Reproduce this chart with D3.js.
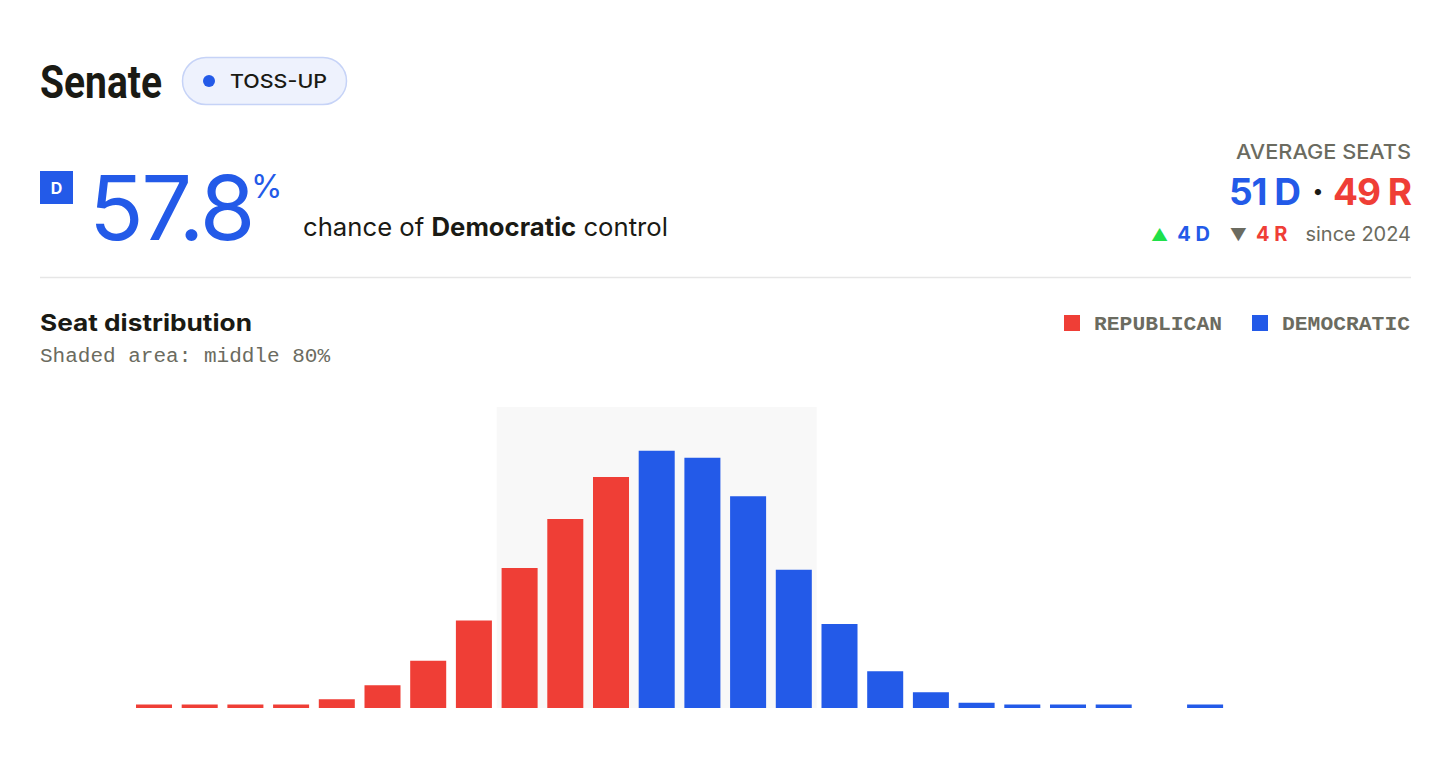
<!DOCTYPE html>
<html>
<head>
<meta charset="utf-8">
<script src="https://cdn.jsdelivr.net/npm/d3@7"></script>
<style>
  html, body { margin: 0; padding: 0; background: #ffffff; }
  svg { display: block; }
</style>
</head>
<body>
<svg id="chart" width="1448" height="772"></svg>
<script>
// ---- data ----
const seats = [39, 40, 41, 42, 43, 44, 45, 46, 47, 48, 49, 50, 51, 52, 53, 54, 55, 56, 57, 58, 59, 60, 61, 62];
const probability = [0.2, 0.2, 0.2, 0.2, 0.5, 1.3, 2.7, 5.0, 8.0, 10.8, 13.2, 14.7, 14.3, 12.1, 7.9, 4.8, 2.1, 0.9, 0.3, 0.2, 0.2, 0.2, 0, 0.2];
const controlThreshold = 50;
const middle80 = [47, 53];
const legendLabels = ["REPUBLICAN", "DEMOCRATIC"];
const demChance = "57.8";
const avgSeats = { D: 51, R: 49 };
const changeSince = { D: 4, R: 4, year: 2024 };

const RED = "#ef3e36", BLUE = "#235ae8", INK = "#1a1a14", GREY = "#6b6b60";
const SANS = "Inter, 'Noto Sans', Roboto, sans-serif";
const MONO = "'Liberation Mono', 'DejaVu Sans Mono', monospace";

const svg = d3.select("#chart");

// ---- header ----
svg.append("text").attr("x", 40).attr("y", 98)
  .attr("font-family", "Roboto, " + SANS).attr("font-weight", 700).attr("font-size", 46)
  .attr("textLength", 122).attr("lengthAdjust", "spacingAndGlyphs")
  .attr("fill", INK).text("Senate");

svg.append("rect").attr("x", 182.5).attr("y", 57.5).attr("width", 164).attr("height", 47)
  .attr("rx", 23.5).attr("fill", "#eef2fd").attr("stroke", "#c6d3f7").attr("stroke-width", 1.5);
svg.append("circle").attr("cx", 209).attr("cy", 81).attr("r", 6).attr("fill", BLUE);
svg.append("text").attr("x", 230).attr("y", 88)
  .attr("font-family", SANS).attr("font-weight", 500).attr("font-size", 19)
  .attr("textLength", 97).attr("lengthAdjust", "spacingAndGlyphs")
  .attr("fill", INK).text("TOSS-UP");

// D badge + big number
svg.append("rect").attr("x", 40).attr("y", 171).attr("width", 33).attr("height", 33).attr("fill", BLUE);
svg.append("text").attr("x", 56.5).attr("y", 194).attr("text-anchor", "middle")
  .attr("font-family", SANS).attr("font-weight", 700).attr("font-size", 16)
  .attr("fill", "#fff").text("D");

const big = svg.append("text").attr("x", 89).attr("y", 240)
  .attr("font-family", SANS).attr("font-weight", 400).attr("fill", BLUE);
const num = big.append("tspan").attr("font-size", 90).text(demChance);
const natural = num.node().getComputedTextLength();
num.attr("letter-spacing", (164 - natural) / demChance.length);
big.append("tspan").attr("font-size", 32).attr("dx", -2).attr("dy", -42).text("%");

const ctrl = svg.append("text").attr("x", 303).attr("y", 236)
  .attr("font-family", SANS).attr("font-size", 25).attr("fill", INK)
  .attr("textLength", 365).attr("lengthAdjust", "spacingAndGlyphs");
ctrl.append("tspan").attr("font-weight", 400).text("chance of ");
ctrl.append("tspan").attr("font-weight", 700).text("Democratic");
ctrl.append("tspan").attr("font-weight", 400).text(" control");

// right block
svg.append("text").attr("x", 1411).attr("y", 159).attr("text-anchor", "end")
  .attr("font-family", SANS).attr("font-weight", 500).attr("font-size", 20)
  .attr("textLength", 175).attr("lengthAdjust", "spacingAndGlyphs")
  .attr("fill", GREY).text("AVERAGE SEATS");
const avg = svg.append("text").attr("x", 1411).attr("y", 205).attr("text-anchor", "end")
  .attr("font-family", SANS).attr("font-weight", 700).attr("font-size", 37).attr("letter-spacing", -1);
avg.append("tspan").attr("fill", BLUE).text(avgSeats.D + " D");
avg.append("tspan").attr("fill", INK).attr("dx", 4).text(" · ");
avg.append("tspan").attr("fill", RED).attr("dx", 2).text(avgSeats.R + " R");

const chg = svg.append("text").attr("x", 1411).attr("y", 241).attr("text-anchor", "end")
  .attr("font-family", SANS).attr("font-size", 20);
chg.append("tspan").attr("fill", "#1fe04a").attr("font-size", 17).text("▲");
chg.append("tspan").attr("fill", BLUE).attr("font-weight", 700).attr("dx", 9).text(changeSince.D + " D");
chg.append("tspan").attr("fill", GREY).attr("font-size", 17).attr("dx", 20).text("▼");
chg.append("tspan").attr("fill", RED).attr("font-weight", 700).attr("dx", 9).text(changeSince.R + " R");
chg.append("tspan").attr("fill", GREY).attr("font-weight", 400).attr("dx", 18).text("since " + changeSince.year);

// divider
svg.append("line").attr("x1", 40).attr("x2", 1411).attr("y1", 277.5).attr("y2", 277.5)
  .attr("stroke", "#e6e6e6").attr("stroke-width", 1.5);

// section title
svg.append("text").attr("x", 40).attr("y", 331)
  .attr("font-family", SANS).attr("font-weight", 700).attr("font-size", 23)
  .attr("textLength", 212).attr("lengthAdjust", "spacingAndGlyphs")
  .attr("fill", INK).text("Seat distribution");
svg.append("text").attr("x", 40).attr("y", 362)
  .attr("font-family", MONO).attr("font-size", 20.5)
  .attr("textLength", 290).attr("lengthAdjust", "spacingAndGlyphs")
  .attr("fill", GREY).text("Shaded area: middle 80%");

// legend
const legendX = [1064, 1252];
const legendColors = [RED, BLUE];
legendLabels.forEach((lab, i) => {
  svg.append("rect").attr("x", legendX[i]).attr("y", 315).attr("width", 16).attr("height", 16).attr("fill", legendColors[i]);
  svg.append("text").attr("x", legendX[i] + 30).attr("y", 330)
    .attr("font-family", MONO).attr("font-weight", 700).attr("font-size", 20.5)
    .attr("textLength", 128).attr("lengthAdjust", "spacingAndGlyphs")
    .attr("fill", GREY).text(lab);
});

// ---- chart ----
const x = d3.scaleBand().domain(seats).range([131.15, 1227.95]).paddingInner(0.212).paddingOuter(0.106);
const y = d3.scaleLinear().domain([0, 17.2]).range([708, 407]);
const halfGap = x.step() * x.paddingInner() / 2;

svg.append("rect")
  .attr("x", x(middle80[0]) - halfGap)
  .attr("y", y.range()[1])
  .attr("width", x(middle80[1]) + x.bandwidth() + halfGap - (x(middle80[0]) - halfGap))
  .attr("height", y.range()[0] - y.range()[1])
  .attr("fill", "#f8f8f8");

const data = seats.map((s, i) => ({ seat: s, p: probability[i] }));
svg.append("g").selectAll("rect").data(data.filter(d => d.p > 0)).join("rect")
  .attr("x", d => x(d.seat))
  .attr("width", x.bandwidth())
  .attr("y", d => y(d.p))
  .attr("height", d => y(0) - y(d.p))
  .attr("fill", d => d.seat >= controlThreshold ? BLUE : RED);
</script>
</body>
</html>
